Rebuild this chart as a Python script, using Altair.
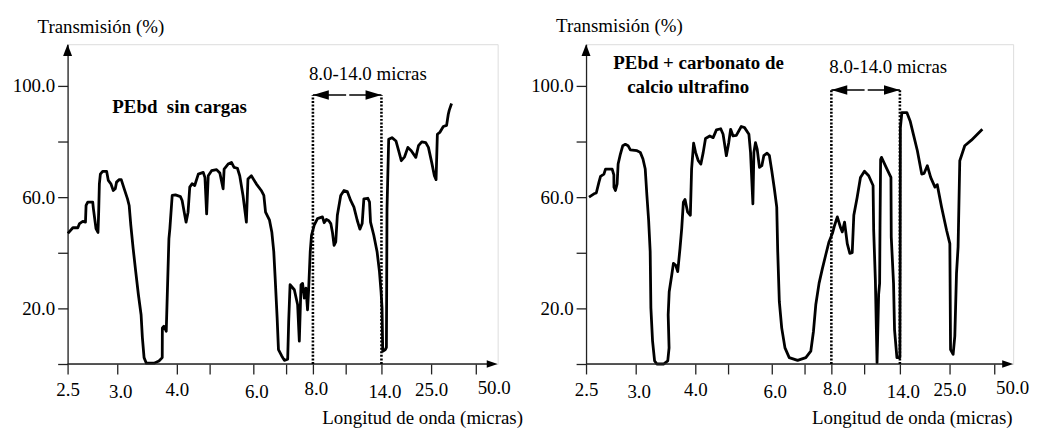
import altair as alt
import pandas as pd

# ---------------- data ----------------
x_ticks = [2.5, 3, 4, 5, 6, 7, 8, 10, 14, 25, 50]          # micras
x_unlabelled = [5, 7, 10]
y_ticks = [0, 20, 40, 60, 80, 100]
y_labelled = [20, 60, 100]

left_um = [2.503, 2.553, 2.603, 2.62, 2.653, 2.68, 2.686, 2.703, 2.753, 2.76,
           2.786, 2.806, 2.813, 2.82, 2.83, 2.853, 2.893, 2.91, 2.936, 2.96,
           2.98, 2.993, 3.033, 3.067, 3.117, 3.172, 3.2, 3.227, 3.267, 3.31,
           3.355, 3.4, 3.422, 3.45, 3.488, 3.617, 3.7, 3.755, 3.757, 3.783,
           3.822, 3.838, 3.867, 3.883, 3.922, 3.977, 4.109, 4.161, 4.242, 4.282,
           4.342, 4.394, 4.464, 4.545, 4.655, 4.806, 4.858, 4.909, 4.958, 5.045,
           5.159, 5.234, 5.309, 5.332, 5.423, 5.5, 5.559, 5.636, 5.689, 5.764,
           5.841, 5.877, 5.955, 6.091, 6.242, 6.321, 6.373, 6.494, 6.564, 6.624,
           6.667, 6.727, 6.767, 6.867, 6.948, 7.059, 7.096, 7.148, 7.307, 7.43,
           7.493, 7.556, 7.615, 7.678, 7.741, 7.8, 7.837, 7.9, 7.948, 8.079,
           8.279, 8.582, 8.685, 8.824, 8.97, 9.091, 9.188, 9.291, 9.394, 9.491,
           9.697, 9.897, 10.178, 10.556, 10.922, 11.289, 11.589, 11.844, 12.033, 12.478,
           12.667, 12.778, 13.144, 13.511, 13.778, 13.956, 14.132, 14.286, 14.88, 15.1,
           15.166, 15.232, 15.606, 16.332, 17.212, 17.806, 18.4, 19.126, 19.852, 20.6,
           21.612, 22.206, 22.932, 23.812, 24.406, 25.333, 26.833, 27.778, 28.5, 30.0,
           31.833, 33.667, 34.611, 35.167, 36.444]
left_T = [47, 49, 49, 50.5, 51.3, 51, 57, 58.2, 58.2, 55.8,
          48.7, 47.3, 54.6, 64.8, 68.3, 69.3, 69.3, 66, 64.8, 62.4,
          63, 65.4, 66.3, 66.3, 63, 59.4, 57, 50, 41.5, 33.2,
          24.9, 17.7, 9.4, 2.3, 0.3, 0.3, 1.1, 2.3, 13, 13.6,
          11.8, 23.7, 45.1, 48.7, 60.6, 60.8, 60.2, 58.8, 53.5, 51,
          54.6, 63.6, 64.8, 64.2, 68.3, 68.9, 67, 54, 67.7, 69.5,
          69.9, 68.7, 63, 70.1, 71.9, 72.5, 70.7, 70.4, 67.7, 60.6,
          51, 66.5, 67.7, 64.8, 62.4, 60.6, 54.6, 51.7, 47.5, 40.4,
          30.8, 16.5, 5.2, 2.9, 1.3, 1.7, 15, 28.5, 26.7, 21.3,
          8.2, 28.5, 29, 23.7, 27.3, 19.5, 26, 40.4, 46.3, 49.9,
          52.3, 52.9, 50.8, 52, 51.5, 50.5, 47.5, 42.7, 43.9, 53.5,
          60.6, 62.4, 62, 58.8, 56.4, 51.7, 48.5, 50.5, 59.4, 59.6,
          58.2, 51, 46.3, 40.4, 33.2, 26, 20.1, 4.6, 5.2, 6,
          30, 55.8, 80.8, 81.4, 80.2, 76.7, 73.1, 74.5, 77.9, 76.7,
          74.3, 78.5, 79.9, 79.6, 77.9, 72.5, 67.7, 66.3, 82.6, 83.4,
          85.4, 85.8, 89.8, 91.3, 93.7]

right_um = [2.53, 2.58, 2.603, 2.63, 2.646, 2.68, 2.696, 2.763, 2.78, 2.781,
            2.796, 2.813, 2.823, 2.846, 2.87, 2.896, 2.923, 2.946, 3.022, 3.077,
            3.122, 3.16, 3.188, 3.217, 3.243, 3.255, 3.283, 3.317, 3.355, 3.467,
            3.538, 3.56, 3.545, 3.562, 3.605, 3.633, 3.672, 3.705, 3.743, 3.772,
            3.8, 3.827, 3.872, 3.917, 3.938, 3.972, 4.009, 4.091, 4.17, 4.242,
            4.312, 4.442, 4.545, 4.645, 4.776, 4.848, 4.948, 5.014, 5.059, 5.114,
            5.189, 5.302, 5.377, 5.477, 5.514, 5.568, 5.591, 5.627, 5.666, 5.718,
            5.773, 5.818, 5.893, 5.945, 6.0, 6.079, 6.152, 6.182, 6.23, 6.303,
            6.403, 6.533, 6.788, 7.048, 7.233, 7.333, 7.419, 7.541, 7.667, 7.789,
            7.911, 8.061, 8.2, 8.364, 8.564, 8.667, 8.806, 8.97, 9.127, 9.273,
            9.37, 9.576, 9.776, 10.033, 10.511, 11.0, 11.067, 11.256, 11.444, 11.622,
            11.733, 11.778, 11.844, 11.944, 12.556, 13.0, 13.033, 13.289, 13.4, 13.667,
            14.0, 14.066, 14.11, 14.44, 15.54, 16.266, 16.992, 17.872, 18.84, 19.346,
            20.072, 20.82, 21.766, 22.272, 23.24, 24.34, 25.167, 25.556, 27.0, 27.944,
            28.889, 29.778, 30.722, 33.5, 37.222, 43.333]
right_T = [60, 61.2, 61.5, 65.4, 67.5, 68.3, 70.1, 70.1, 68, 63.6,
           62.4, 64.8, 71.9, 75.5, 78.5, 79, 78.5, 77, 76.7, 76.1,
           73.7, 70.1, 60.6, 51.7, 40.4, 20.1, 8.2, 1.1, 0, 0,
           1.1, 5.8, 17.7, 26, 32, 36.2, 35.5, 33.2, 41.5, 48.7,
           58.2, 59.2, 54.6, 53.5, 70.1, 79.4, 76.1, 73.1, 71.9, 76.1,
           81.1, 82, 81.4, 84.2, 84.6, 82.6, 74.9, 79.5, 84.4, 82,
           82.2, 85.4, 85, 82.6, 76.1, 57.6, 76.1, 79.6, 77.3, 70.7,
           71.3, 74.9, 75.8, 75, 69.5, 63, 56.4, 40.4, 22.5, 13,
           5.8, 2.3, 1.3, 2.3, 4.6, 11.8, 21.3, 29, 34.4, 39.2,
           43.9, 46.9, 49.9, 52.9, 49, 47.5, 51, 43.3, 39.8, 40,
           53.5, 60, 67.1, 69.3, 67.7, 64.2, 48.1, 30.2, 0.5, 25,
           29, 50, 73.5, 74.3, 70.1, 67.1, 45.7, 29, 12.4, 2.3,
           2.3, 40, 85, 90.4, 90.4, 87.4, 82.6, 76.7, 68.3, 68.5,
           71.3, 67.1, 63.6, 64.5, 56.4, 48.1, 43.3, 5.2, 3.5, 10,
           32.6, 42.1, 73.1, 78.5, 80.5, 84.4]

left_label = ["PEbd\u00a0 sin cargas"]
right_label = ["PEbd + carbonato de", "calcio ultrafino"]
band_label = "8.0-14.0 micras"
band = [8, 14]

# ---------------- styling / layout ----------------
FONT = "Liberation Serif"
BOLD_FONT = "Times New Roman, Liberation Serif, serif"
FS = 19
W_L, W_R, H = 433, 430, 322
X_RANGE = [0, 50, 110, 143, 187, 220, 247, 280, 316, 366, 411]   # pixel layout of the printed axis

xs = alt.Scale(domain=x_ticks, range=X_RANGE, nice=False, zero=False)
ys = alt.Scale(domain=[0, 115], nice=False, zero=False)

x_lab_expr = ("indexof(" + str(x_unlabelled) + ", datum.value) >= 0 ? '' : format(datum.value, '.1f')")
y_lab_expr = ("indexof(" + str(y_labelled) + ", datum.value) >= 0 ? format(datum.value, '.1f') : ''")


def panel(um, T, labels, label_pos, band_pos, band_top, title_x, title_y, width):
    df = pd.DataFrame({"um": um, "T": T, "i": list(range(len(um)))})
    x_axis = alt.Axis(
        values=x_ticks, labelExpr=x_lab_expr, title="Longitud de onda (micras)",
        titleX=title_x, titleY=60, titleAlign="left", titleBaseline="alphabetic", titleAngle=0,
        titleFont=FONT, titleFontSize=FS, titleFontWeight="normal", titleColor="black",
        labelFont=FONT, labelFontSize=FS, labelColor="black",
        labelPadding={"condition": [{"test": "datum.value == 3 || datum.value == 6 || datum.value == 14", "value": 9},
                                    {"test": "datum.value == 50", "value": 5},
                                    {"test": "datum.value == 8", "value": 6}],
                      "value": 7},
        labelOverlap=False, labelFlush=False,
        labelOffset={"condition": [{"test": "datum.value == 50", "value": 18},
                                   {"test": "datum.value == 2.5 || datum.value == 4 || datum.value == 25", "value": 0}],
                     "value": 3},
        tickSize=10, tickColor="#222", tickWidth=1.3, domain=False, grid=False)
    y_axis = alt.Axis(
        values=y_ticks, labelExpr=y_lab_expr, title="Transmisión (%)",
        titleX=-30.7, titleY=title_y, titleAlign="left", titleBaseline="alphabetic", titleAngle=0,
        titleFont=FONT, titleFontSize=FS, titleFontWeight="normal", titleColor="black",
        labelFont=FONT, labelFontSize=FS, labelColor="black", labelPadding=3,
        labelOverlap=False, labelFlush=False,
        tickSize=10, tickColor="#222", tickWidth=1.3,
        domain=True, domainColor="#222", domainWidth=1.3, grid=False)

    def X(field):
        return alt.X(field, scale=xs, axis=x_axis)

    def Y(field):
        return alt.Y(field, scale=ys, axis=y_axis)

    curve = alt.Chart(df).mark_line(color="black", strokeWidth=2.8, strokeJoin="round").encode(
        x=X("um:Q"), y=Y("T:Q"), order=alt.Order("i:Q"))

    one = pd.DataFrame({"d": [0]})
    baseline = alt.Chart(one).mark_rule(color="#222", strokeWidth=1.3).encode(
        x=alt.value(0), x2=alt.value(width - 9), y=Y("d:Q"))
    x_arrow = alt.Chart(one).mark_point(shape="M0,0L-2,-0.7L-2,0.7Z", filled=True, opacity=1,
                                        color="black", size=121).encode(
        x=alt.value(width), y=Y("d:Q"))
    y_arrow = alt.Chart(one).mark_point(shape="M0,0L-0.75,2L0.75,2Z", filled=True, opacity=1,
                                        color="black", size=144).encode(
        x=alt.value(0), y=alt.value(0))

    bdf = pd.DataFrame({"um": band, "y0": [0, 0], "y1": [band_top, band_top]})
    dotted = alt.Chart(bdf).mark_rule(color="black", strokeWidth=2.6, strokeDash=[2, 1.6]).encode(
        x=X("um:Q"), y=Y("y0:Q"), y2="y1:Q")
    sdf = pd.DataFrame({"a": [band[0], 10.4], "b": [10.05, band[1]], "y": [band_top, band_top]})
    shaft = alt.Chart(sdf).mark_rule(color="black", strokeWidth=1.5).encode(
        x=X("a:Q"), x2="b:Q", y=Y("y:Q"))
    head_l = alt.Chart(bdf.iloc[[0]]).mark_point(shape="M0,0L2,-0.6L2,0.6Z", filled=True, opacity=1,
                                                 color="black", size=256).encode(
        x=X("um:Q"), y=Y("y1:Q"))
    head_r = alt.Chart(bdf.iloc[[1]]).mark_point(shape="M0,0L-2,-0.6L-2,0.6Z", filled=True, opacity=1,
                                                 color="black", size=256).encode(
        x=X("um:Q"), y=Y("y1:Q"))

    tdf = pd.DataFrame({"t": [band_label], "x": [band_pos[0]], "y": [band_pos[1]]})
    band_text = alt.Chart(tdf).mark_text(font=FONT, fontSize=FS, color="black", align="center",
                                         baseline="alphabetic").encode(
        x=X("x:Q"), y=Y("y:Q"), text="t:N")

    ldf = pd.DataFrame({"t": labels, "x": [p[0] for p in label_pos], "y": [p[1] for p in label_pos]})
    lab_text = alt.Chart(ldf).mark_text(font=BOLD_FONT, fontSize=FS, fontWeight="bold", color="black",
                                        align="center", baseline="alphabetic").encode(
        x=X("x:Q"), y=Y("y:Q"), text="t:N")

    return alt.layer(curve, baseline, x_arrow, y_arrow, dotted, shaft, head_l, head_r,
                     band_text, lab_text).properties(width=width, height=H)


left = panel(left_um, left_T, left_label, [(4.085, 90.4)], (12.48, 102), 96.7, 256, -11.7, W_L)
right = panel(right_um, right_T, right_label, [(4.1, 106), (3.88, 97.3)], (12.7, 104.5), 98.5, 227, -12.7, W_R)

chart = alt.hconcat(left, right, spacing=89, bounds="flush").properties(
    padding={"left": 3, "top": 6, "right": 0, "bottom": 0}
).configure_view(strokeWidth=0).configure(background="white")

chart.save("out.html", embed_options={"renderer": "svg", "actions": False})
